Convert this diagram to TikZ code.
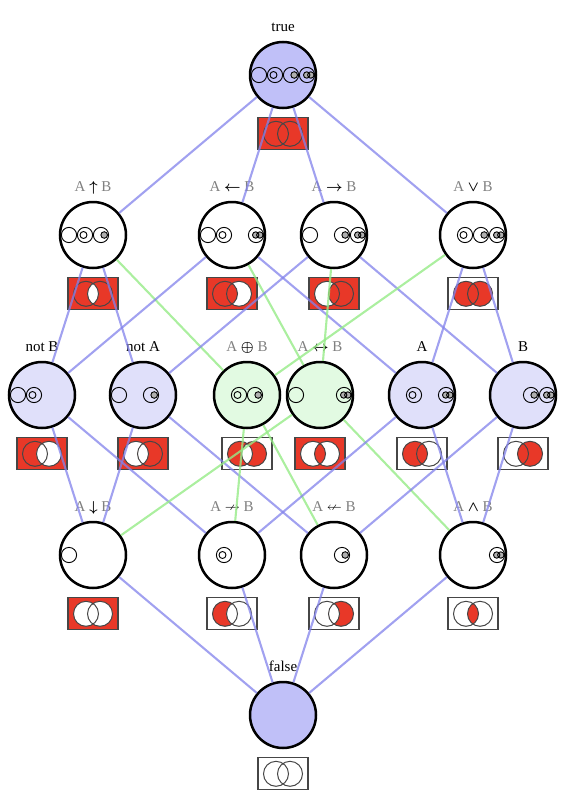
\documentclass[tikz,border=0pt]{standalone}
\usepackage{amsmath,amssymb}
\usepackage{fontspec}
\setmainfont{Liberation Serif}
\usetikzlibrary{positioning,calc}
\definecolor{tf}{RGB}{192,192,248}
\definecolor{lit}{RGB}{224,224,250}
\definecolor{par}{RGB}{226,250,226}
\definecolor{vr}{RGB}{232,56,40}
\definecolor{eb}{RGB}{130,130,235}
\definecolor{eg}{RGB}{150,235,135}
\definecolor{dot}{RGB}{176,176,176}
\definecolor{bx}{RGB}{70,70,70}
\newcommand{\opl}[1]{\textcolor{gray}{A} $\boldsymbol{#1}$ \textcolor{gray}{B}}
% small rings for the true cells of a function (1: neither, 2: A only, 3: B only, 4: both)
\newcommand{\cells}[2]{%
  \foreach \k in {#2}{%
    \pgfmathsetmacro\dx{16*\k-40}%
    \begin{scope}[shift={(#1.center)},xshift=\dx pt]
      \draw[ic] (0,0) circle (7.6pt);
      \ifnum\k=2 \draw[ic] (-1.5,0) circle (3.5pt);\fi
      \ifnum\k=3 \draw[ic,fill=dot] (3.2,0) circle (3.3pt);\fi
      \ifnum\k=4 \draw[ic,fill=dot] (-0.3,0) circle (3.2pt) (3.8,0) circle (3.2pt);\fi
    \end{scope}}}

\begin{document}
\begin{tikzpicture}[x=1pt,y=-1pt,
  f/.style={circle,draw,line width=2.5pt,minimum size=66pt,inner sep=0pt},
  lb/.style={inner sep=0pt,text depth=0pt,font=\fontsize{15}{18}\selectfont,above=9pt of #1},
  v/.style n args={4}{draw=bx,line width=1.1pt,minimum width=50pt,minimum height=32pt,inner sep=0pt,fill=#1,
    path picture={
      \path (path picture bounding box.center) coordinate (vc);
      \fill[#2] ([xshift=-7pt]vc) circle (12.5pt);
      \fill[#4] ([xshift=7pt]vc) circle (12.5pt);
      \begin{scope}\clip ([xshift=-7pt]vc) circle (12.5pt);\fill[#3] ([xshift=7pt]vc) circle (12.5pt);\end{scope}
      \draw[line width=1pt] ([xshift=-7pt]vc) circle (12.5pt) ([xshift=7pt]vc) circle (12.5pt);}},
  ic/.style={line width=0.9pt},
  be/.style={draw=eb,line width=2.1pt,opacity=0.75},
  ge/.style={draw=eg,line width=2.1pt,opacity=0.8}
]
\useasboundingbox (0,0) rectangle (562,800);
\node[f,fill=tf] (top) at (283,75) {};
\node[f] (nand) at (93,235) {};
\node[f] (rimp) at (232,235) {};
\node[f] (imp) at (334,235) {};
\node[f] (or) at (473,235) {};
\node[f,fill=lit] (nb) at (42,395) {};
\node[f,fill=lit] (na) at (143,395) {};
\node[f,fill=par] (xor) at (247,395) {};
\node[f,fill=par] (xnor) at (320,395) {};
\node[f,fill=lit] (a) at (422,395) {};
\node[f,fill=lit] (b) at (523,395) {};
\node[f] (nor) at (93,555) {};
\node[f] (nimp) at (232,555) {};
\node[f] (rnimp) at (334,555) {};
\node[f] (and) at (473,555) {};
\node[f,fill=tf] (bot) at (283,715) {};
% labels
\node[lb=top] (top-l) {true};
\node[lb=nand] (nand-l) {\opl{\uparrow}};
\node[lb=rimp] (rimp-l) {\opl{\leftarrow}};
\node[lb=imp] (imp-l) {\opl{\rightarrow}};
\node[lb=or] (or-l) {\opl{\vee}};
\node[lb=nb] (nb-l) {not B};
\node[lb=na] (na-l) {not A};
\node[lb=xor] (xor-l) {\opl{\oplus}};
\node[lb=xnor] (xnor-l) {\opl{\leftrightarrow}};
\node[lb=a] (a-l) {A};
\node[lb=b] (b-l) {B};
\node[lb=nor] (nor-l) {\opl{\downarrow}};
\node[lb=nimp] (nimp-l) {\opl{\nrightarrow}};
\node[lb=rnimp] (rnimp-l) {\opl{\nleftarrow}};
\node[lb=and] (and-l) {\opl{\wedge}};
\node[lb=bot] (bot-l) {false};
% venn boxes: outside, A only, both, B only
\node[v={vr}{vr}{vr}{vr},below=8pt of top] (top-v) {};
\node[v={vr}{vr}{white}{vr},below=8pt of nand] (nand-v) {};
\node[v={vr}{vr}{vr}{white},below=8pt of rimp] (rimp-v) {};
\node[v={vr}{white}{vr}{vr},below=8pt of imp] (imp-v) {};
\node[v={white}{vr}{vr}{vr},below=8pt of or] (or-v) {};
\node[v={vr}{vr}{white}{white},below=8pt of nb] (nb-v) {};
\node[v={vr}{white}{white}{vr},below=8pt of na] (na-v) {};
\node[v={white}{vr}{white}{vr},below=8pt of xor] (xor-v) {};
\node[v={vr}{white}{vr}{white},below=8pt of xnor] (xnor-v) {};
\node[v={white}{vr}{vr}{white},below=8pt of a] (a-v) {};
\node[v={white}{white}{vr}{vr},below=8pt of b] (b-v) {};
\node[v={vr}{white}{white}{white},below=8pt of nor] (nor-v) {};
\node[v={white}{vr}{white}{white},below=8pt of nimp] (nimp-v) {};
\node[v={white}{white}{white}{vr},below=8pt of rnimp] (rnimp-v) {};
\node[v={white}{white}{vr}{white},below=8pt of and] (and-v) {};
\node[v={white}{white}{white}{white},below=8pt of bot] (bot-v) {};
% edges
\draw[be] (top)--(nand);\draw[be] (top)--(rimp);\draw[be] (top)--(imp);\draw[be] (top)--(or);
\draw[be] (nand)--(nb);\draw[be] (nand)--(na);\draw[ge] (nand)--(xor);
\draw[be] (rimp)--(a);\draw[be] (rimp)--(nb);\draw[ge] (rimp)--(xnor);
\draw[be] (imp)--(b);\draw[be] (imp)--(na);\draw[ge] (imp)--(xnor);
\draw[be] (or)--(a);\draw[be] (or)--(b);\draw[ge] (or)--(xor);
\draw[be] (nb)--(nor);\draw[be] (nb)--(nimp);\draw[be] (na)--(nor);\draw[be] (na)--(rnimp);
\draw[ge] (xor)--(nimp);\draw[ge] (xor)--(rnimp);\draw[ge] (xnor)--(nor);\draw[ge] (xnor)--(and);
\draw[be] (a)--(and);\draw[be] (a)--(nimp);\draw[be] (b)--(and);\draw[be] (b)--(rnimp);
\draw[be] (nor)--(bot);\draw[be] (nimp)--(bot);\draw[be] (rnimp)--(bot);\draw[be] (and)--(bot);
% cells
\cells{top}{1,2,3,4}
\cells{nand}{1,2,3}\cells{rimp}{1,2,4}\cells{imp}{1,3,4}\cells{or}{2,3,4}
\cells{nb}{1,2}\cells{na}{1,3}\cells{xor}{2,3}\cells{xnor}{1,4}\cells{a}{2,4}\cells{b}{3,4}
\cells{nor}{1}\cells{nimp}{2}\cells{rnimp}{3}\cells{and}{4}
\end{tikzpicture}
\end{document}
